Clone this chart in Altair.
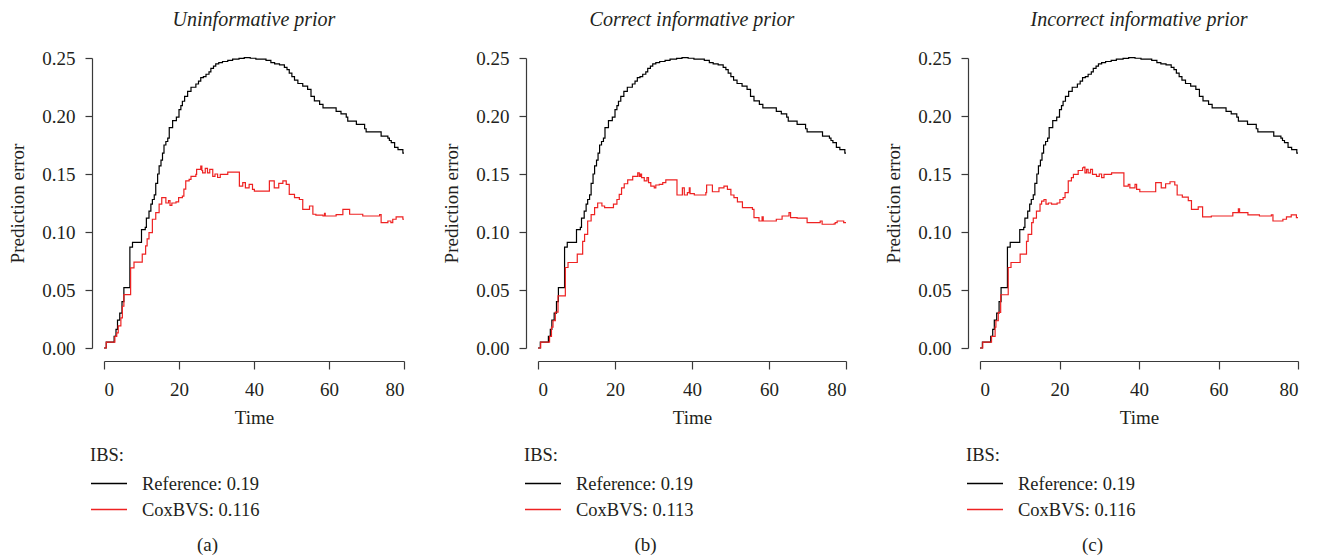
import altair as alt
import pandas as pd

FONT = "Liberation Serif"

# Reference (Kaplan-Meier) prediction error curve, shared by all panels
ref_t = [0, 0.6, 2.7, 3.2, 3.6, 4.2, 4.8, 5.3, 6.9, 7.6,
         10.0, 11.0, 11.3, 12.0, 12.5, 12.9, 13.4, 13.8, 14.3, 14.7,
         15.2, 15.6, 16.0, 16.5, 17.0, 17.4, 18.3, 19.3, 20.0, 20.5,
         20.9, 21.5, 22.3, 23.2, 24.5, 25.2, 25.8, 26.5, 27.2, 28.0,
         28.5, 29.2, 29.8, 30.6, 31.6, 33.0, 34.3, 36.0, 37.4, 39.0,
         40.5, 43.2, 44.5, 45.5, 46.8, 48.1, 48.8, 49.4, 50.1, 50.8,
         51.7, 53.0, 54.3, 55.2, 56.1, 57.5, 58.4, 61.9, 63.2, 64.6,
         65.0, 67.3, 69.5, 69.9, 73.9, 75.7, 76.1, 76.6, 77.5, 78.4,
         79.7, 80.0]
ref_v = [0, 0.005, 0.010, 0.016, 0.024, 0.030, 0.040, 0.052, 0.087, 0.091,
         0.102, 0.104, 0.112, 0.118, 0.124, 0.128, 0.132, 0.142, 0.150, 0.157,
         0.162, 0.168, 0.175, 0.178, 0.181, 0.190, 0.196, 0.199, 0.2055, 0.209,
         0.2127, 0.217, 0.2213, 0.2248, 0.2276, 0.230, 0.233, 0.234, 0.236, 0.238,
         0.241, 0.243, 0.245, 0.246, 0.247, 0.248, 0.249, 0.2497, 0.2503, 0.2498,
         0.249, 0.248, 0.246, 0.245, 0.244, 0.242, 0.240, 0.237, 0.234, 0.231,
         0.228, 0.2257, 0.223, 0.217, 0.213, 0.210, 0.207, 0.204, 0.2018, 0.199,
         0.1955, 0.1927, 0.189, 0.1864, 0.1826, 0.181, 0.1789, 0.177, 0.173, 0.171,
         0.168, 0.168]

# CoxBVS, uninformative prior
cox_a_t = [0, 0.6, 2.9, 3.4, 3.8, 4.5, 4.9, 5.3, 7.1, 8.0,
           10.2, 11.1, 11.5, 12.0, 12.9, 13.8, 14.7, 15.4, 16.5, 17.2,
           17.6, 18.1, 19.2, 19.9, 20.9, 21.3, 21.8, 22.7, 23.2, 24.5,
           24.7, 25.8, 26.1, 26.3, 27.0, 27.6, 28.2, 29.0, 29.6, 30.3,
           31.0, 33.0, 36.1, 37.0, 37.7, 38.7, 39.6, 40.1, 44.1, 45.4,
           46.6, 47.7, 48.6, 49.4, 50.8, 52.1, 53.0, 54.8, 55.7, 56.5,
           58.4, 58.8, 59.0, 61.9, 63.7, 65.5, 69.0, 73.5, 73.9, 75.7,
           76.5, 77.0, 77.9, 79.7, 80.0]
cox_a_v = [0, 0.005, 0.010, 0.013, 0.019, 0.026, 0.036, 0.046, 0.069, 0.074,
           0.081, 0.088, 0.094, 0.0995, 0.111, 0.1167, 0.124, 0.1296, 0.125, 0.127,
           0.123, 0.125, 0.126, 0.1296, 0.131, 0.137, 0.144, 0.1453, 0.148, 0.1497,
           0.154, 0.1568, 0.153, 0.151, 0.1548, 0.151, 0.154, 0.148, 0.150, 0.147,
           0.1497, 0.1517, 0.1396, 0.1425, 0.138, 0.141, 0.1368, 0.1353, 0.144, 0.138,
           0.142, 0.144, 0.141, 0.1325, 0.1296, 0.128, 0.1195, 0.1224, 0.1153, 0.1145,
           0.1138, 0.116, 0.1138, 0.115, 0.1195, 0.1153, 0.1138, 0.115, 0.108, 0.1095,
           0.108, 0.111, 0.113, 0.111, 0.111]

# CoxBVS, correct informative prior
cox_b_t = [0, 0.7, 3.0, 3.5, 3.9, 4.5, 5.2, 7.1, 7.8, 10.2,
           11.6, 12.1, 12.9, 13.8, 14.7, 15.5, 16.6, 17.3, 19.6, 20.5,
           21.1, 21.7, 22.4, 23.3, 24.6, 25.9, 26.3, 26.6, 26.9, 27.6,
           28.3, 28.7, 29.3, 30.2, 30.6, 31.5, 32.4, 33.2, 36.1, 37.5,
           38.0, 38.8, 39.3, 39.5, 40.6, 43.6, 43.8, 45.3, 47.0, 48.3,
           49.2, 50.1, 50.9, 51.8, 53.1, 55.7, 56.1, 57.4, 58.2, 58.5,
           61.9, 63.4, 65.2, 65.6, 67.3, 69.9, 73.3, 73.8, 76.9, 77.2,
           77.7, 79.4, 80.0]
cox_b_v = [0, 0.005, 0.010, 0.018, 0.0235, 0.031, 0.045, 0.0694, 0.0737, 0.081,
           0.092, 0.098, 0.1095, 0.115, 0.121, 0.125, 0.1224, 0.121, 0.124, 0.128,
           0.1325, 0.138, 0.1416, 0.145, 0.148, 0.151, 0.148, 0.150, 0.1468, 0.144,
           0.1468, 0.1425, 0.1396, 0.138, 0.1405, 0.141, 0.1425, 0.145, 0.1319, 0.138,
           0.1319, 0.134, 0.138, 0.133, 0.1319, 0.134, 0.1405, 0.1347, 0.138, 0.1396,
           0.1368, 0.1319, 0.1296, 0.126, 0.121, 0.1195, 0.1124, 0.1095, 0.113, 0.1095,
           0.111, 0.1138, 0.1167, 0.1124, 0.112, 0.108, 0.1095, 0.1067, 0.107, 0.108,
           0.1095, 0.108, 0.108]

# CoxBVS, incorrect informative prior
cox_c_t = [0, 0.7, 2.9, 3.8, 4.0, 4.6, 5.2, 7.1, 7.8, 10.1,
           11.7, 12.1, 13.0, 13.4, 14.2, 15.1, 15.5, 16.1, 16.6, 17.2,
           18.0, 19.4, 20.1, 20.9, 21.4, 22.2, 23.0, 23.5, 24.7, 25.8,
           26.1, 26.4, 26.8, 27.2, 27.8, 28.3, 29.3, 30.0, 30.6, 31.2,
           33.1, 36.2, 37.3, 37.7, 39.0, 39.4, 40.2, 44.2, 45.6, 46.7,
           47.8, 49.0, 49.6, 50.9, 52.4, 53.2, 54.9, 56.0, 58.2, 63.6,
           65.0, 65.3, 67.4, 70.3, 73.3, 73.7, 76.2, 77.1, 78.3, 79.6,
           80.0]
cox_c_v = [0, 0.005, 0.010, 0.018, 0.0235, 0.0307, 0.0459, 0.0694, 0.0737, 0.081,
           0.092, 0.098, 0.108, 0.112, 0.118, 0.124, 0.1267, 0.128, 0.124, 0.125,
           0.124, 0.125, 0.128, 0.1296, 0.134, 0.144, 0.1468, 0.1497, 0.153, 0.1554,
           0.156, 0.151, 0.154, 0.151, 0.154, 0.1497, 0.148, 0.150, 0.1468, 0.1497,
           0.151, 0.1396, 0.141, 0.138, 0.141, 0.1368, 0.1347, 0.1425, 0.138, 0.1416,
           0.1433, 0.1405, 0.1319, 0.130, 0.127, 0.1195, 0.1216, 0.113, 0.1138, 0.1167,
           0.120, 0.1167, 0.1147, 0.1138, 0.1147, 0.1095, 0.111, 0.113, 0.1147, 0.1124,
           0.1124]

panel_titles = ["Uninformative prior", "Correct informative prior", "Incorrect informative prior"]
captions = ["(a)", "(b)", "(c)"]
ibs_reference = "0.19"
ibs_coxbvs = ["0.116", "0.113", "0.116"]
x_ticks = [0, 20, 40, 60, 80]
y_ticks = [0.00, 0.05, 0.10, 0.15, 0.20, 0.25]

cox_series = [(cox_a_t, cox_a_v), (cox_b_t, cox_b_v), (cox_c_t, cox_c_v)]
panel_widths = [300, 308, 318]
PLOT_H = 290
AXIS_COLOR = "#3a3a3a"
TEXT_COLOR = "#231f20"


def make_panel(i):
    ref_label = f"Reference: {ibs_reference}"
    cox_label = f"CoxBVS: {ibs_coxbvs[i]}"
    ct, cv = cox_series[i]
    df = pd.concat([
        pd.DataFrame({"Time": ref_t, "err": ref_v, "series": ref_label}),
        pd.DataFrame({"Time": ct, "err": cv, "series": cox_label}),
    ], ignore_index=True)

    chart = alt.Chart(df).mark_line(
        interpolate="step-after", strokeWidth=1.2, clip=False
    ).encode(
        x=alt.X("Time:Q", title="Time",
                scale=alt.Scale(domain=[0, 80], nice=False, zero=False),
                axis=alt.Axis(values=x_ticks, format="d", offset=13, tickSize=8,
                              labelPadding=11, titlePadding=9, grid=False)),
        y=alt.Y("err:Q", title="Prediction error",
                scale=alt.Scale(domain=[0, 0.25], nice=False),
                axis=alt.Axis(values=y_ticks, format=".2f", offset=12, tickSize=7,
                              labelPadding=10, titlePadding=14, grid=False)),
        color=alt.Color("series:N",
                        scale=alt.Scale(domain=[ref_label, cox_label],
                                        range=["#000000", "#ee2222"]),
                        legend=alt.Legend(
                            title="IBS:", orient="none", legendX=-14, legendY=388,
                            symbolType="M-1,0H3", symbolSize=324,
                            symbolStrokeWidth=1.3, labelOffset=32,
                            labelFont=FONT, labelFontSize=18.5, labelColor=TEXT_COLOR,
                            titleFont=FONT, titleFontSize=18.5, titleFontWeight="normal",
                            titleColor=TEXT_COLOR, titlePadding=9, rowPadding=6,
                            padding=0)),
    ).properties(
        width=panel_widths[i], height=PLOT_H,
        title=alt.TitleParams(panel_titles[i], font=FONT, fontSize=20,
                              fontStyle="italic", fontWeight="normal",
                              color=TEXT_COLOR, frame="group", anchor="middle",
                              offset=19),
    )

    return alt.vconcat(
        chart,
        title=alt.TitleParams(captions[i], orient="bottom", font=FONT, fontSize=19,
                              fontWeight="normal", color=TEXT_COLOR,
                              anchor="middle", offset=17),
    ).resolve_scale(color="independent")


chart = alt.hconcat(
    *[make_panel(i) for i in range(3)], spacing=35
).resolve_scale(color="independent").resolve_legend(color="independent").properties(
    padding={"top": 2, "left": 0, "right": 0, "bottom": 0}
).configure(
    font=FONT
).configure_view(
    stroke=None
).configure_axis(
    labelFont=FONT, titleFont=FONT, labelFontSize=19, titleFontSize=19,
    titleFontWeight="normal", labelColor=TEXT_COLOR, titleColor=TEXT_COLOR,
    domainColor=AXIS_COLOR, tickColor=AXIS_COLOR, domainWidth=1.2, tickWidth=1.2
)

chart.save("out.html", embed_options={"renderer": "svg", "actions": False})
